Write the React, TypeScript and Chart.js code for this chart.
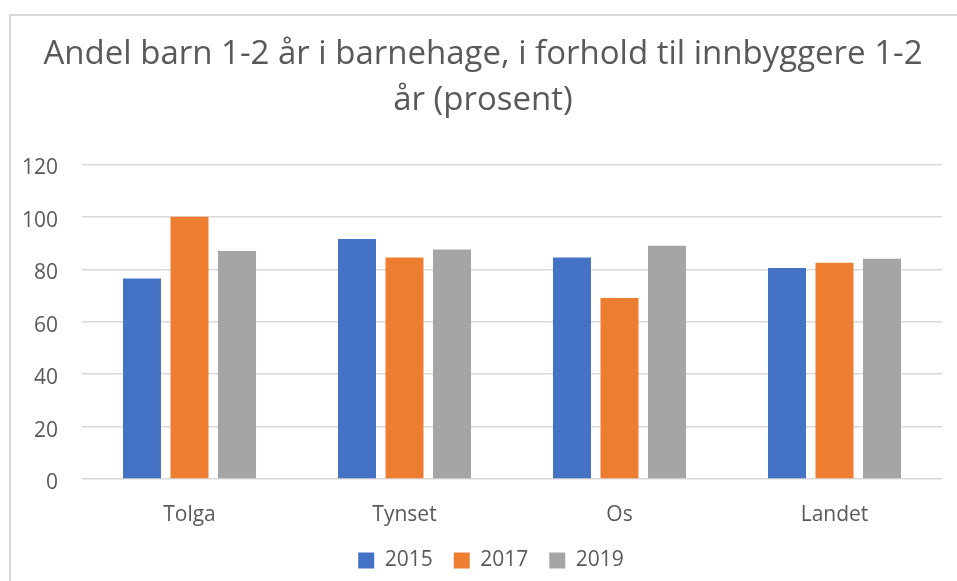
import React, { useEffect, useRef } from "react";
import { Chart, registerables } from "chart.js";

Chart.register(...registerables);

const categories = ["Tolga", "Tynset", "Os", "Landet"];
const seriesLabels = ["2015", "2017", "2019"];
const values2015 = [76.5, 91.5, 84.5, 80.5];
const values2017 = [100, 84.5, 69, 82.5];
const values2019 = [87, 87.5, 89, 84];
const seriesColors = ["#4472C4", "#ED7D31", "#A5A5A5"];
const titleLines = [
  "Andel barn 1-2 år i barnehage, i forhold til innbyggere 1-2",
  "år (prosent)",
];
const yMin = 0;
const yMax = 120;
const yStep = 20;

const FONT = "'Open Sans', 'Noto Sans', sans-serif";
const TEXT = "#595959";
const GRID = "#d9d9d9";

const shiftBoxes = {
  id: "shiftBoxes",
  afterLayout(chart: any) {
    if (chart.legend) {
      chart.legend.left += 20;
      chart.legend.right += 20;
    }
    if (chart.titleBlock) {
      chart.titleBlock.left += 12;
      chart.titleBlock.right += 12;
    }
  },
};

export default function App() {
  const ref = useRef<HTMLCanvasElement | null>(null);

  useEffect(() => {
    if (!ref.current) return;
    const allValues = [values2015, values2017, values2019];
    const chart = new Chart(ref.current, {
      type: "bar",
      data: {
        labels: categories,
        datasets: seriesLabels.map((l, i) => ({
          label: l,
          data: allValues[i],
          backgroundColor: seriesColors[i],
          borderWidth: 0,
          barPercentage: 0.8,
          categoryPercentage: 0.663,
        })),
      },
      plugins: [shiftBoxes],
      options: {
        animation: false,
        responsive: false,
        maintainAspectRatio: false,
        layout: { padding: { left: 0, right: 15, top: 14, bottom: 0 } },
        plugins: {
          tooltip: { enabled: false },
          title: {
            display: true,
            text: titleLines,
            color: TEXT,
            font: { family: FONT, size: 33, weight: "normal", lineHeight: 1.4 },
            padding: { top: 17, bottom: 41 },
          },
          legend: {
            position: "bottom",
            maxHeight: 54,
            labels: {
              color: TEXT,
              font: { family: FONT, size: 21 },
              boxWidth: 16,
              boxHeight: 16,
              padding: 21,
            },
          },
        },
        scales: {
          x: {
            grid: { display: false, drawTicks: false },
            border: { display: false },
            ticks: { color: TEXT, font: { family: FONT, size: 21 }, padding: 23 },
            afterFit: (s: any) => {
              s.height = 50;
            },
          },
          y: {
            min: yMin,
            max: yMax,
            ticks: {
              stepSize: yStep,
              color: TEXT,
              font: { family: FONT, size: 21 },
              padding: 24,
              labelOffset: 4,
            },
            grid: { color: GRID, lineWidth: 1.5, drawTicks: false },
            border: { display: false },
            afterFit: (s: any) => {
              s.width = 82;
            },
          },
        },
      },
    });
    return () => chart.destroy();
  }, []);

  return (
    <div
      style={{
        position: "fixed",
        left: 0,
        top: 0,
        width: 957,
        height: 581,
        overflow: "hidden",
        background: "#fff",
      }}
    >
      <div
        style={{
          position: "absolute",
          left: 9,
          top: 14,
          width: 1000,
          height: 700,
          border: `2px solid ${GRID}`,
        }}
      />
      <canvas
        ref={ref}
        width={957}
        height={581}
        style={{ position: "absolute", left: 0, top: 0 }}
      />
    </div>
  );
}
